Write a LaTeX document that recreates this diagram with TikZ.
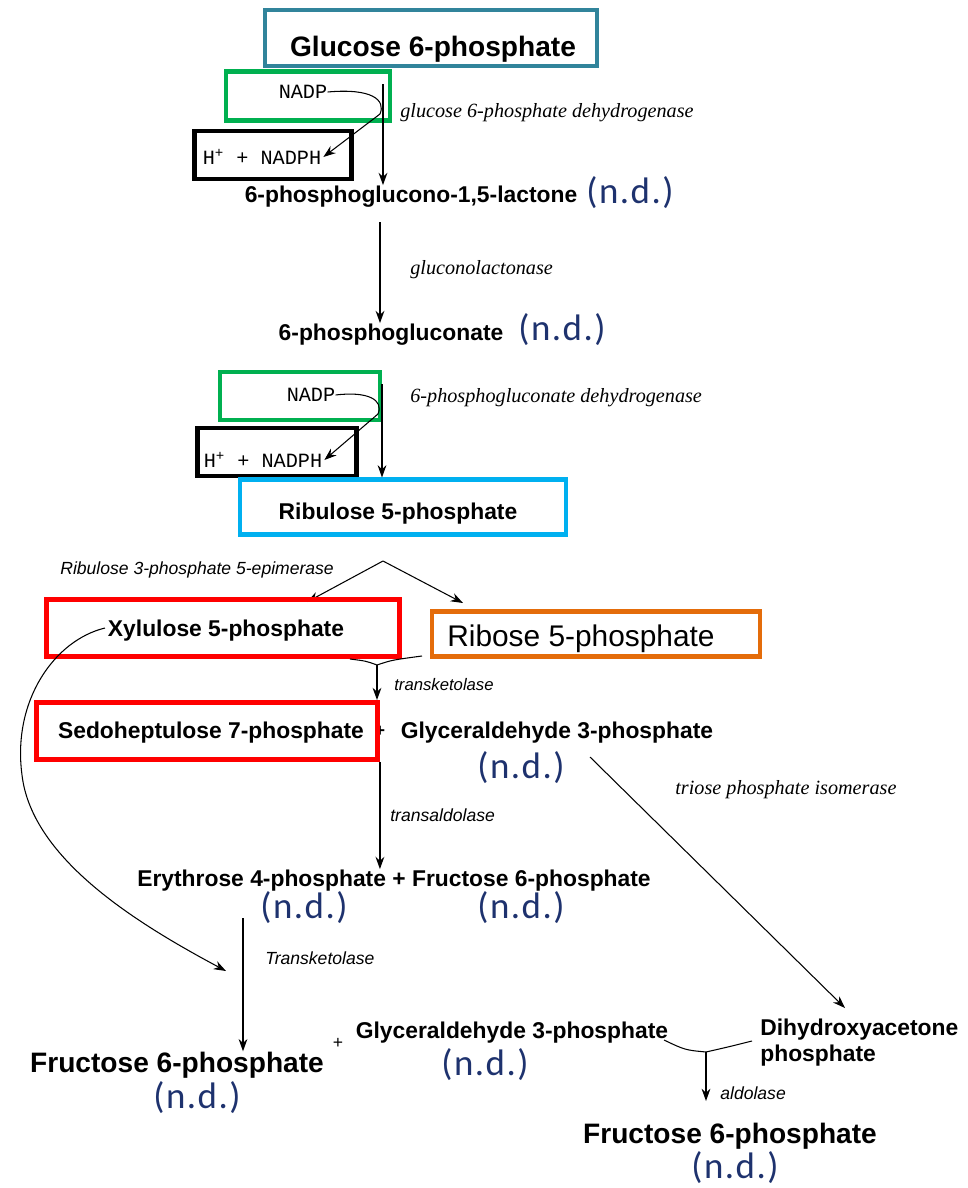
\documentclass[tikz,border=0pt]{standalone}
\usepackage{fontspec}
\usetikzlibrary{arrows.meta}
\setmainfont{Liberation Sans}
\newfontfamily\courfont{Liberation Mono}
\newfontfamily\timesfont{Liberation Serif}
\newfontfamily\ndfont[LetterSpace=4]{Carlito}

\definecolor{tealc}{RGB}{49,132,155}
\definecolor{greenc}{RGB}{0,176,80}
\definecolor{bluec}{RGB}{0,176,240}
\definecolor{redc}{RGB}{255,0,0}
\definecolor{orangec}{RGB}{228,108,10}
\definecolor{ndc}{RGB}{30,50,110}

\begin{document}
\begin{tikzpicture}[x=0.02cm,y=-0.02cm,
    met/.style={font=\fontsize{13}{14.5}\selectfont\bfseries, inner sep=0pt, anchor=base},
    bigmet/.style={font=\fontsize{16}{18}\selectfont\bfseries, inner sep=0pt, anchor=base},
    ribmet/.style={font=\fontsize{17}{19}\selectfont, inner sep=0pt, anchor=base},
    nd/.style={font=\fontsize{21}{23}\ndfont, text=ndc, inner sep=0pt},
    cofac/.style={font=\fontsize{11.5}{13}\courfont, inner sep=0pt},
    enz/.style={font=\fontsize{11.5}{13}\timesfont\itshape, anchor=west, inner sep=0pt},
    enzsf/.style={font=\fontsize{10}{12}\selectfont\itshape, anchor=west, inner sep=0pt},
    frame/.style={draw, line width=2.3pt, inner sep=0pt},
    rxn/.style={line width=0.75pt, -{Stealth[length=7pt,width=5pt]}},
    side/.style={line width=0.6pt, -{Stealth[length=7pt,width=5pt]}},
    thinline/.style={line width=0.6pt}
  ]
  \useasboundingbox (0,0) rectangle (968,1188);

  % oxidative part
  \node[frame, draw=tealc, minimum width=6.66cm, minimum height=1.12cm] (g6pbox) at (431,38) {};
  \node[bigmet] (g6p) at (433,56) {Glucose 6-phosphate};

  \node[frame, draw=greenc, minimum width=3.28cm, minimum height=0.98cm] (nadpbox1) at (308,96) {};
  \node[frame, draw=black, line width=2.8pt, minimum width=3.14cm, minimum height=0.96cm] (hbox1) at (273,155) {};
  \node[cofac] (nadp1) at (303,92) {NADP};
  \node[cofac] (nadph1) at (262,157) {H\textsuperscript{+} + NADPH};

  \coordinate (s1) at (383,84);
  \node[met] (lac) at (411,202) {6-phosphoglucono-1,5-lactone};
  \node[nd] (nd1) at (630,193) {(n.d.)};
  \draw[rxn] (s1) -- (s1 |- lac.north);
  \draw[side] (nadp1.east) .. controls (372,88) and (386,100) .. (380,114) -- ([xshift=1pt]nadph1.east);
  \node[enz] (g6pdh) at (400,113) {glucose 6-phosphate dehydrogenase};

  \coordinate (s2) at (380,222);
  \node[met] (pgl) at (391,340) {6-phosphogluconate};
  \node[nd] (nd2) at (562,330) {(n.d.)};
  \draw[rxn] (s2) -- (s2 |- pgl.north);
  \node[enz] (glase) at (410,270) {gluconolactonase};

  \node[frame, draw=greenc, minimum width=3.2cm, minimum height=0.96cm] (nadpbox2) at (300,396) {};
  \node[frame, draw=black, line width=2.8pt, minimum width=3.18cm, minimum height=0.96cm] (hbox2) at (277,452) {};
  \node[cofac] (nadp2) at (311,395) {NADP};
  \node[cofac] (nadph2) at (263,460) {H\textsuperscript{+} + NADPH};

  \node[frame, draw=bluec, minimum width=6.52cm, minimum height=1.1cm] (ru5pbox) at (403,507) {};
  \node[met] (ru5p) at (398,519) {Ribulose 5-phosphate};
  \coordinate (s3) at (382,384);
  \draw[rxn] (s3) -- (s3 |- ru5pbox.north);
  \draw[side] (nadp2.east) .. controls (368,391) and (384,400) .. (378,414) -- ([xshift=1pt]nadph2.east);
  \node[enz] (pgdh) at (410,398) {6-phosphogluconate dehydrogenase};

  % non-oxidative part
  \coordinate (epi) at (383,561);
  \coordinate (xtip) at (307,602);
  \coordinate (rtip) at (463,603);
  \draw[side] (epi) -- (xtip);
  \draw[side] (epi) -- (rtip);
  \node[enzsf] (rpe) at (60,570) {Ribulose 3-phosphate 5-epimerase};

  \node[frame, draw=redc, line width=2.8pt, minimum width=7.06cm, minimum height=1.14cm] (xu5pbox) at (223,628) {};
  \node[met] (xu5p) at (226,636) {Xylulose 5-phosphate};
  \node[frame, draw=orangec, minimum width=6.56cm, minimum height=0.9cm] (r5pbox) at (596,634) {};
  \node[ribmet] (r5p) at (581,646) {Ribose 5-phosphate};

  \node[met, font=\fontsize{10}{12}\selectfont\bfseries] (plus1) at (380,736) {+};
  \node[frame, draw=redc, line width=2.8pt, minimum width=6.82cm, minimum height=1.14cm] (s7pbox) at (207,731) {};
  \node[met] (s7p) at (211,738) {Sedoheptulose 7-phosphate};
  \node[met] (gap1) at (557,738) {Glyceraldehyde 3-phosphate};
  \node[nd] (nd3) at (521,768) {(n.d.)};

  \coordinate (tk1) at (377,665);
  \draw[thinline] (350,659) .. controls (366,661) .. (tk1);
  \draw[thinline] (422,656) .. controls (392,660) .. (tk1);
  \draw[rxn] (tk1) -- (tk1 |- s7pbox.north);
  \node[enzsf, font=\fontsize{9.5}{11}\selectfont\itshape] (tkt1) at (394,685) {transketolase};

  \node[met] (e4p) at (394,886) {Erythrose 4-phosphate + Fructose 6-phosphate};
  \node[nd] (nd4) at (304,908) {(n.d.)};
  \node[nd] (nd5) at (521,908) {(n.d.)};
  \draw[rxn] (s7pbox.south east) -- (s7pbox.south east |- e4p.north);
  \node[enzsf] (tal) at (390,815) {transaldolase};

  \node[bigmet] (f6p1) at (177,1072) {Fructose 6-phosphate};
  \node[met, font=\fontsize{10}{12}\selectfont] (plus2) at (338,1048) {+};
  \node[nd] (nd6) at (197,1098) {(n.d.)};
  \coordinate (s4) at (243,918);
  \draw[rxn] (s4) -- (s4 |- f6p1.north);
  \node[enzsf] (tkt2) at (265,958) {Transketolase};

  \coordinate (xtail) at (105,628);
  \coordinate (ftip) at (226,971);
  \draw[side] (xtail) .. controls (55,640) and (12,700) .. (22,775)
    .. controls (32,860) and (140,925) .. (ftip);

  \node[met] (gap2) at (512,1038) {Glyceraldehyde 3-phosphate};
  \node[nd] (nd7) at (485,1065) {(n.d.)};
  \node[met, anchor=north west, align=left] (dhap) at (760,1019) {Dihydroxyacetone\\phosphate};

  \coordinate (tpi1) at (590,757);
  \coordinate (tpi2) at (845,1008);
  \draw[side] (tpi1) -- (tpi2);
  \node[enz] (tpi) at (675,790) {triose phosphate isomerase};

  \coordinate (ald) at (706,1052);
  \coordinate (aldtip) at (706,1101);
  \draw[thinline] (664,1040) .. controls (685,1050) .. (ald);
  \draw[thinline] (752,1041) .. controls (728,1047) .. (ald);
  \draw[rxn] (ald) -- (aldtip);
  \node[enzsf] (aldo) at (720,1093) {aldolase};

  \node[bigmet] (f6p2) at (730,1143) {Fructose 6-phosphate};
  \node[nd, anchor=south] (nd8) at (735,1184) {(n.d.)};
\end{tikzpicture}
\end{document}
